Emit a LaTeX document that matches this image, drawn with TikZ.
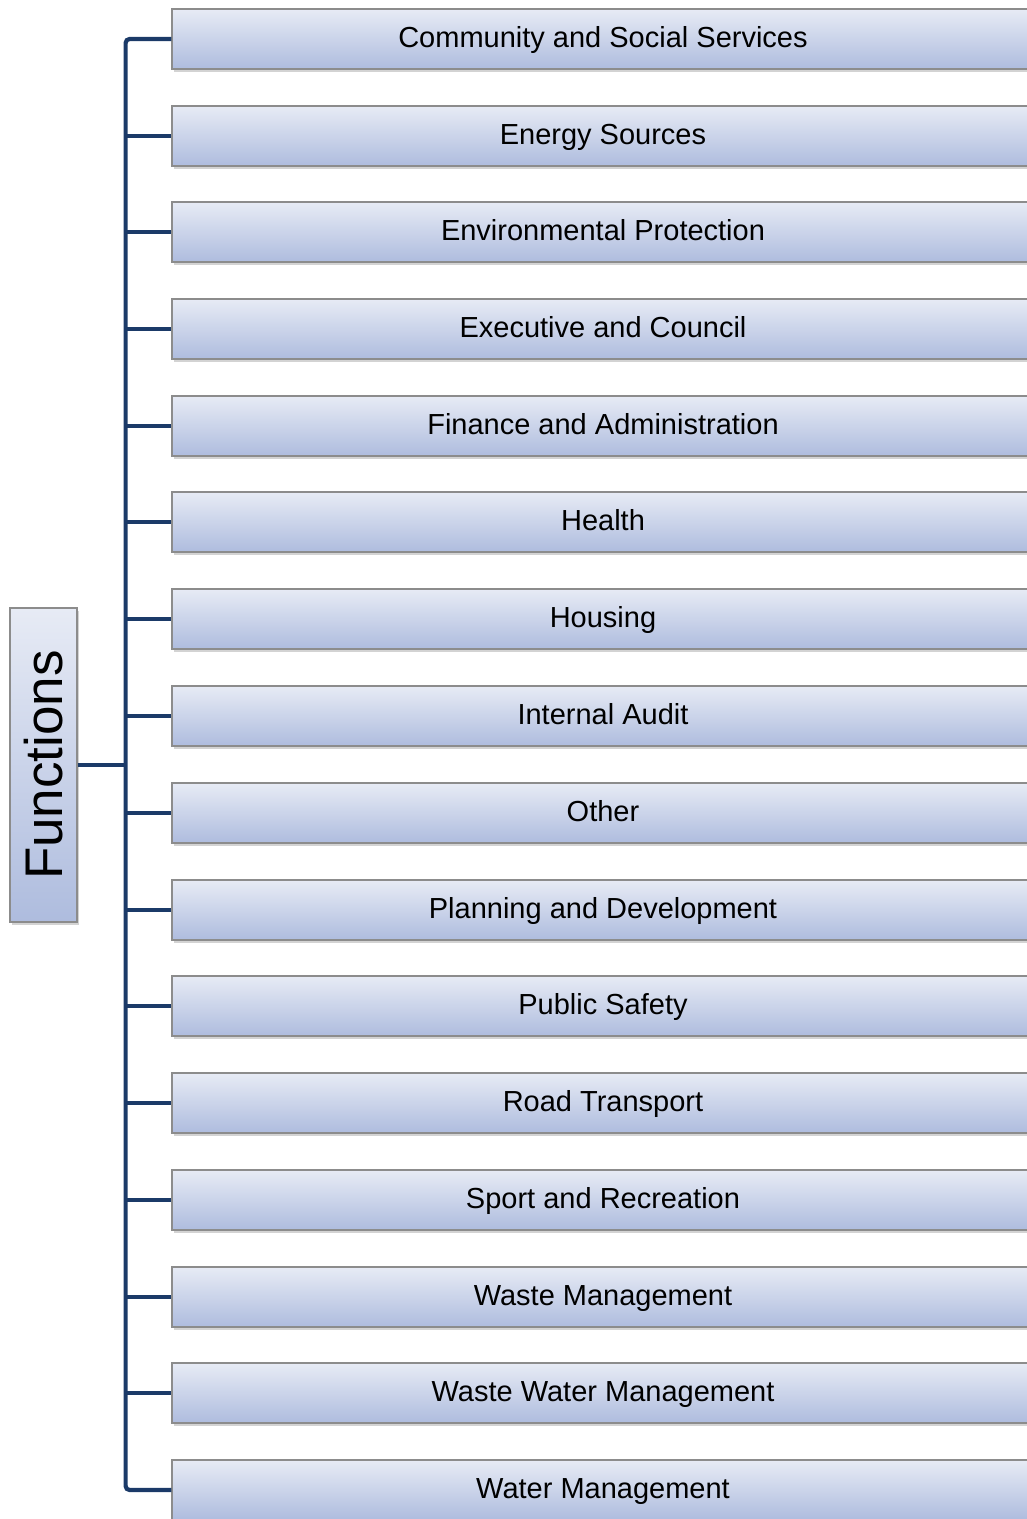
\documentclass[tikz,border=0pt]{standalone}
\usepackage{fontspec}
\usepackage{graphicx}
\setmainfont{Liberation Sans}
\usetikzlibrary{shadows}

\definecolor{navy}{HTML}{1B3A68}
\definecolor{boxtop}{HTML}{E7EBF5}
\definecolor{boxbot}{HTML}{AEBCDE}
\definecolor{boxline}{HTML}{8C8C8C}

\tikzset{
    func/.style={rectangle, draw=boxline, line width=1.2pt, top color=boxtop, bottom color=boxbot,
        minimum width=862, minimum height=60, inner sep=0pt,
        text height=21pt, text depth=3.5pt,
        font=\fontsize{29}{34}\selectfont,
        drop shadow={shadow xshift=1.5pt, shadow yshift=-3pt, opacity=0.35}},
    conn/.style={draw=navy, line width=4.2pt}
}

\begin{document}
\begin{tikzpicture}[x=1pt, y=-1pt]
            \clip (0,0) rectangle (1027,1519);

            % Root (left)
            \node (F) at (43.5, 765) [rectangle, draw=boxline, line width=1.2pt, top color=boxtop, bottom color=boxbot,
                minimum width=67, minimum height=314, inner sep=0pt,
                font=\fontsize{53}{60}\selectfont,
                drop shadow={shadow xshift=1.5pt, shadow yshift=-3pt, opacity=0.35}] {\rotatebox{90}{Functions}};

            % Functions (right)
            \node (B1) at (603, 39) [func] {Community and Social Services};
            \node (B2) at (603, 136) [func] {Energy Sources};
            \node (B3) at (603, 232) [func] {Environmental Protection};
            \node (B4) at (603, 329) [func] {Executive and Council};
            \node (B5) at (603, 426) [func] {Finance and Administration};
            \node (B6) at (603, 522) [func] {Health};
            \node (B7) at (603, 619) [func] {Housing};
            \node (B8) at (603, 716) [func] {Internal Audit};
            \node (B9) at (603, 813) [func] {Other};
            \node (B10) at (603, 910) [func] {Planning and Development};
            \node (B11) at (603, 1006) [func] {Public Safety};
            \node (B12) at (603, 1103) [func] {Road Transport};
            \node (B13) at (603, 1200) [func] {Sport and Recreation};
            \node (B14) at (603, 1297) [func] {Waste Management};
            \node (B15) at (603, 1393) [func] {Waste Water Management};
            \node (B16) at (603, 1490) [func] {Water Management};

            % Trunk
            \draw[conn] (F.east) -- ++(48,0) coordinate (hub);
            \draw[conn, rounded corners=4pt] (B1.west) -| (hub) |- (B16.west);

            % Branches
            \draw[conn] (hub |- B2.west) -- (B2.west);
            \draw[conn] (hub |- B3.west) -- (B3.west);
            \draw[conn] (hub |- B4.west) -- (B4.west);
            \draw[conn] (hub |- B5.west) -- (B5.west);
            \draw[conn] (hub |- B6.west) -- (B6.west);
            \draw[conn] (hub |- B7.west) -- (B7.west);
            \draw[conn] (hub |- B8.west) -- (B8.west);
            \draw[conn] (hub |- B9.west) -- (B9.west);
            \draw[conn] (hub |- B10.west) -- (B10.west);
            \draw[conn] (hub |- B11.west) -- (B11.west);
            \draw[conn] (hub |- B12.west) -- (B12.west);
            \draw[conn] (hub |- B13.west) -- (B13.west);
            \draw[conn] (hub |- B14.west) -- (B14.west);
            \draw[conn] (hub |- B15.west) -- (B15.west);
        \end{tikzpicture}
\end{document}
